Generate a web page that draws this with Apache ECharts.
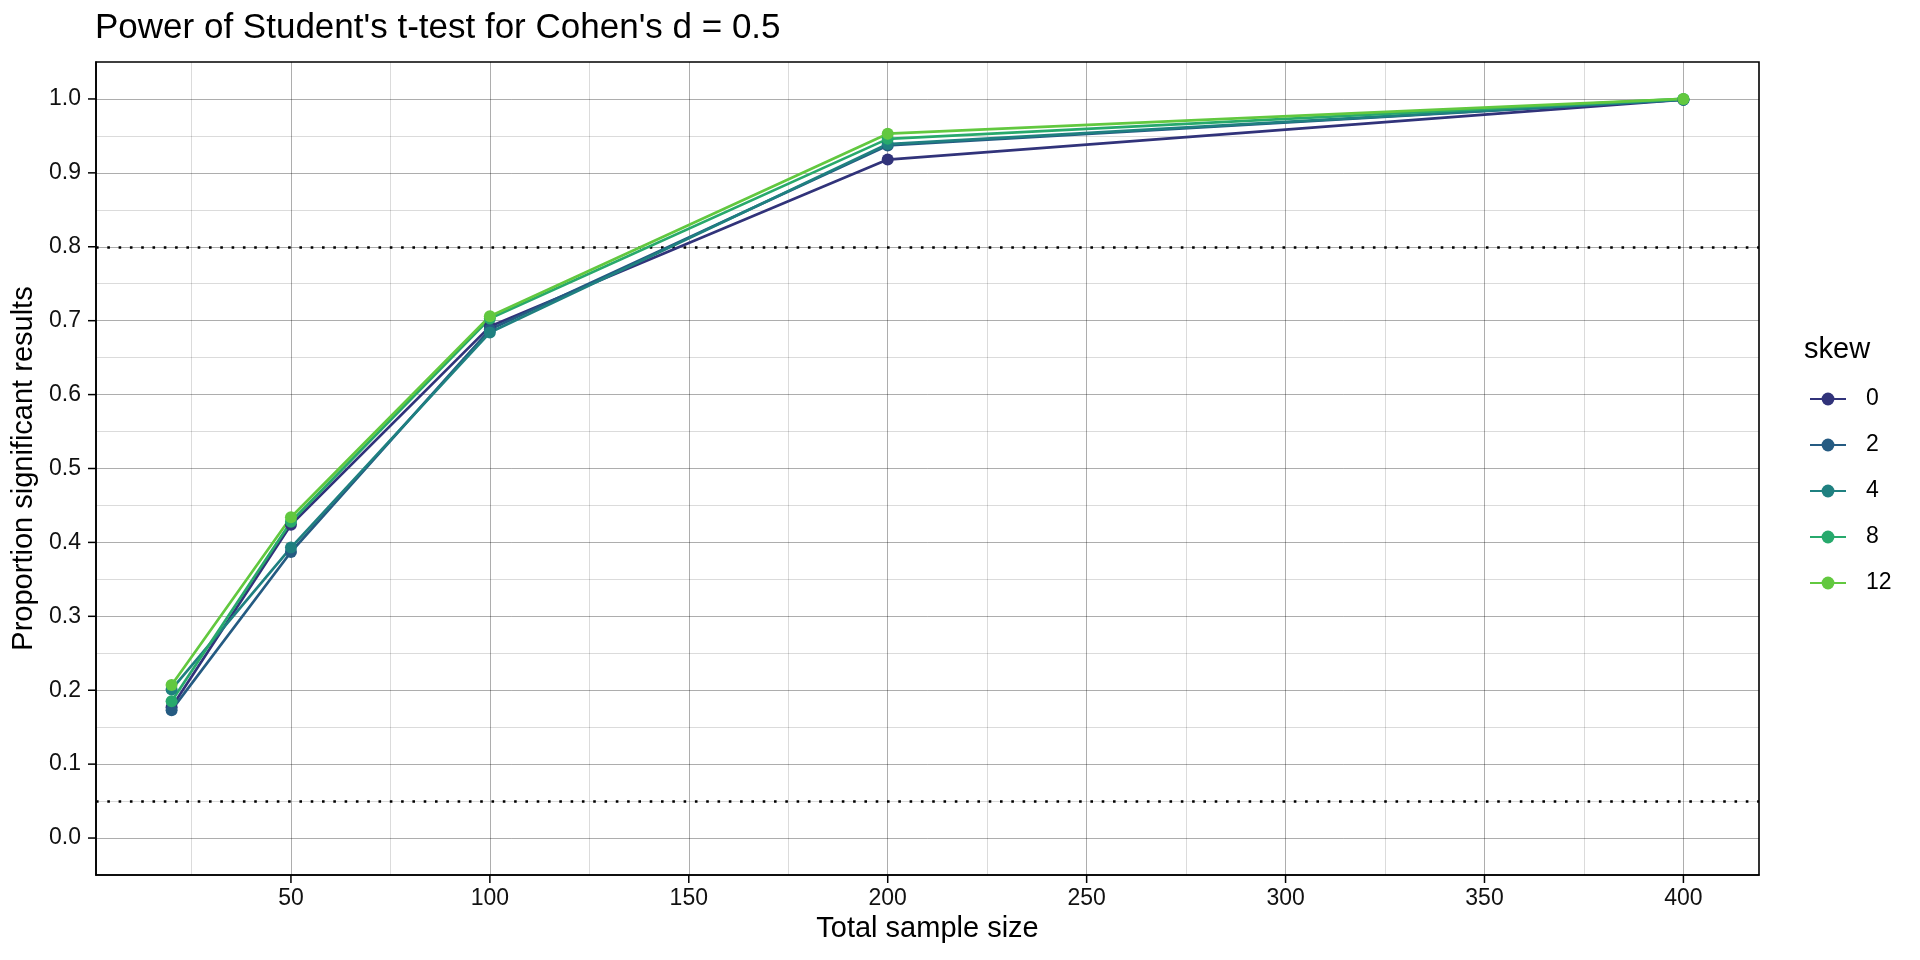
<!DOCTYPE html>
<html><head><meta charset="utf-8">
<script src="https://cdn.jsdelivr.net/npm/echarts@6/dist/echarts.min.js"></script>
<style>html,body{margin:0;padding:0;background:#fff}#chart{width:1920px;height:960px}</style>
</head><body><div id="chart"></div>
<script>
const sampleSizes = [20, 50, 100, 200, 400];
const skewLevels = ['0', '2', '4', '8', '12'];
const skew0  = [0.177, 0.424, 0.692, 0.918, 0.999];
const skew2  = [0.173, 0.387, 0.688, 0.937, 0.999];
const skew4  = [0.201, 0.393, 0.684, 0.939, 0.999];
const skew8  = [0.185, 0.428, 0.703, 0.946, 1.000];
const skew12 = [0.207, 0.434, 0.706, 0.953, 1.000];
const xTicks = [50, 100, 150, 200, 250, 300, 350, 400];
const xMinor = [25, 75, 125, 175, 225, 275, 325, 375];
const yTicks = [0, 0.1, 0.2, 0.3, 0.4, 0.5, 0.6, 0.7, 0.8, 0.9, 1.0];
const yMinor = [0.05, 0.15, 0.25, 0.35, 0.45, 0.55, 0.65, 0.75, 0.85, 0.95];
const refLines = [0.8, 0.05];

const FONT = '"Liberation Sans", Arial, Helvetica, sans-serif';
const colors = ['#31337A', '#255B82', '#1F8080', '#27A96C', '#62C83F'];
const seriesValues = [skew0, skew2, skew4, skew8, skew12];
const X_MIN = 1, X_MAX = 419, Y_MIN = -0.05, Y_MAX = 1.05;
const TICK_LEN = 8;

const majorStyle = {color: 'rgba(0,0,0,0.32)', width: 1, type: 'solid'};
const minorStyle = {color: 'rgba(0,0,0,0.14)', width: 1, type: 'solid'};

const gridLines = [];
xMinor.forEach(v => gridLines.push({xAxis: v, lineStyle: minorStyle}));
yMinor.forEach(v => gridLines.push({yAxis: v, lineStyle: minorStyle}));
xTicks.forEach(v => gridLines.push({xAxis: v, lineStyle: majorStyle}));
yTicks.forEach(v => gridLines.push({yAxis: v, lineStyle: majorStyle}));

const series = [{
  type: 'line', name: '_grid', data: [], z: 1, silent: true,
  markLine: {silent: true, symbol: 'none', label: {show: false}, animation: false, data: gridLines}
}, {
  type: 'line', name: '_ref', data: [], z: 2, silent: true,
  markLine: {silent: true, symbol: 'none', label: {show: false}, animation: false,
    lineStyle: {color: '#000', width: 2.6, type: [2.6, 8.7], cap: 'butt'},
    data: refLines.map(v => ({yAxis: v}))}
}];
skewLevels.forEach((name, k) => {
  series.push({
    type: 'line', name: name, z: 5,
    data: sampleSizes.map((x, i) => [x, seriesValues[k][i]]),
    symbol: 'circle', symbolSize: 12, showSymbol: true,
    lineStyle: {color: colors[k], width: 2.7},
    itemStyle: {color: colors[k]},
    animation: false
  });
});

const chart = echarts.init(document.getElementById('chart'), null, {renderer: 'canvas'});
chart.setOption({
  backgroundColor: '#fff',
  animation: false,
  textStyle: {fontFamily: FONT},
  title: [{
    text: "Power of Student's t-test for Cohen's d = 0.5",
    left: 95, top: 11, padding: 0,
    textStyle: {fontSize: 35, fontWeight: 'normal', color: '#000', fontFamily: FONT}
  }, {
    text: 'skew', left: 1804, top: 335, padding: 0,
    textStyle: {fontSize: 29, fontWeight: 'normal', color: '#000', fontFamily: FONT}
  }],
  legend: {
    orient: 'vertical', left: 1809, top: 386, padding: 0,
    itemWidth: 36, itemHeight: 16, itemGap: 20,
    data: skewLevels,
    textStyle: {fontSize: 23, color: '#000', fontFamily: FONT, lineHeight: 26, padding: [0, 0, 0, 15]}
  },
  grid: {left: 96, top: 62, right: 161, bottom: 85, show: true, borderColor: '#000', borderWidth: 1.6, backgroundColor: 'transparent'},
  xAxis: {
    type: 'value', min: X_MIN, max: X_MAX, position: 'bottom',
    name: 'Total sample size', nameLocation: 'middle', nameGap: 37,
    nameTextStyle: {fontSize: 29, color: '#000', fontFamily: FONT},
    axisLine: {show: true, onZero: false, lineStyle: {color: '#000', width: 1.6}},
    axisTick: {show: false},
    axisLabel: {customValues: xTicks, fontSize: 23, color: '#111', margin: 12, fontFamily: FONT},
    splitLine: {show: false}
  },
  yAxis: {
    type: 'value', min: Y_MIN, max: Y_MAX, position: 'left',
    name: 'Proportion significant results', nameLocation: 'middle', nameGap: 51, nameRotate: 90,
    nameTextStyle: {fontSize: 29, color: '#000', fontFamily: FONT},
    axisLine: {show: true, onZero: false, lineStyle: {color: '#000', width: 1.6}},
    axisTick: {show: false},
    axisLabel: {customValues: yTicks, fontSize: 23, color: '#111', margin: 15, fontFamily: FONT,
      formatter: v => Number(v).toFixed(1)},
    splitLine: {show: false}
  },
  series: series
});

// axis tick marks placed through the chart's own scales
const tickEls = [];
const yBottom = chart.convertToPixel({yAxisIndex: 0}, Y_MIN);
const xLeft = chart.convertToPixel({xAxisIndex: 0}, X_MIN);
xTicks.forEach(v => {
  const px = chart.convertToPixel({xAxisIndex: 0}, v);
  tickEls.push({type: 'line', silent: true, z: 10,
    shape: {x1: px, y1: yBottom, x2: px, y2: yBottom + TICK_LEN},
    style: {stroke: '#000', lineWidth: 1.5}});
});
yTicks.forEach(v => {
  const py = chart.convertToPixel({yAxisIndex: 0}, v);
  tickEls.push({type: 'line', silent: true, z: 10,
    shape: {x1: xLeft - TICK_LEN, y1: py, x2: xLeft, y2: py},
    style: {stroke: '#000', lineWidth: 1.5}});
});
chart.setOption({graphic: {elements: tickEls}});
</script></body></html>
